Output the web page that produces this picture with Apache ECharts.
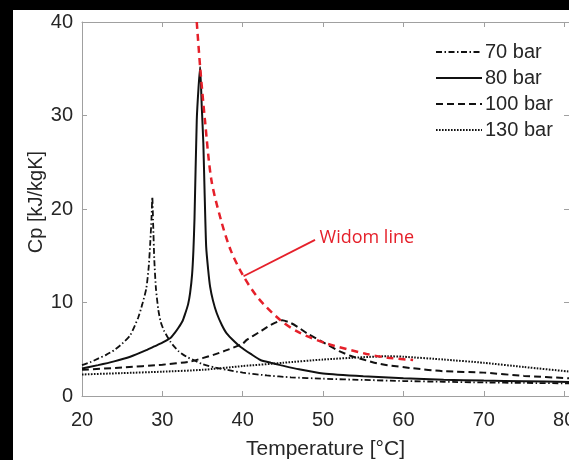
<!DOCTYPE html>
<html><head><meta charset="utf-8">
<script src="https://cdn.jsdelivr.net/npm/echarts@6/dist/echarts.min.js"></script>
<style>
html,body{margin:0;padding:0;background:#000;width:569px;height:460px;overflow:hidden;}
#c{position:absolute;left:13px;top:10px;width:556px;height:450px;background:#fff;}
</style></head>
<body><div id="c"></div>
<script>
// ---- data ----
const xTicks = [20, 30, 40, 50, 60, 70, 80];
const yTicks = [0, 10, 20, 30, 40];
const seriesNames = ['70 bar', '80 bar', '100 bar', '130 bar'];

const t70  = [20,21,22,23,24,25,26,27,27.5,28,28.3,28.5,28.65,28.75,28.85,29,29.2,29.5,29.8,30.2,31,32,33,34,35,36.5,38,40,43,46,50,55,60,65,70,75,80.6];
const cp70 = [3.3,3.6,4.0,4.4,4.9,5.6,6.5,8.4,9.8,11.5,13.8,16.5,19.0,21.3,18.5,14.5,11.5,9.2,7.9,7.0,5.8,4.8,4.2,3.8,3.4,3.05,2.8,2.5,2.2,2.0,1.85,1.72,1.6,1.52,1.45,1.4,1.35];

const t80  = [20,22,24,26,28,29,30,31,31.5,32,32.5,32.8,33.2,33.45,33.7,33.86,34.0,34.28,34.5,34.7,34.9,35.1,35.25,35.45,35.7,35.94,36.3,36.77,37.4,38,39,39.7,41,42.2,43.5,44.7,47,50,55,60,65,70,75,80.6];
const cp80 = [2.95,3.3,3.7,4.2,4.9,5.3,5.7,6.2,6.7,7.3,8.0,8.7,9.8,11.0,13.0,15.5,19.0,29.5,33,35.2,31,27,22,16,13.5,11.7,10.2,8.85,7.6,6.7,5.8,5.27,4.5,3.85,3.55,3.3,2.85,2.4,2.1,1.9,1.75,1.65,1.58,1.5];

const t100  = [20,25,30,33.45,35,36.35,38,40,40.5,42,43.5,44.9,46,47,48,50.3,52,53.4,55,56.7,58,61.2,65,70,75,80.6];
const cp100 = [2.8,3.05,3.35,3.67,4.05,4.4,4.9,5.6,6.0,6.8,7.6,8.1,7.8,7.3,6.7,5.6,4.8,4.3,3.9,3.5,3.3,2.96,2.65,2.5,2.15,1.9];

const t130  = [20,25,30,35,40,45,50,55,58,60,65,70,75,80.6];
const cp130 = [2.3,2.45,2.6,2.8,3.2,3.55,3.9,4.15,4.25,4.2,3.9,3.55,3.1,2.62];

const tWidom  = [34.28,34.7,35.3,36.1,37.3,38.5,40.1,42,44.7,47,50.5,55.4,58,61.2];
const cpWidom = [40,35.2,29.5,23.1,18.8,15.6,12.8,10.4,8.1,6.8,5.6,4.5,4.1,3.85];

const arrowFrom = [40.1, 12.8];
const arrowTo   = [49, 16.7];
const widomLabel = 'Widom line';
const xTitle = 'Temperature [°C]';
const yTitle = 'Cp [kJ/kgK]';

// ---- chart ----
const pairs = (xs, ys) => xs.map((x, i) => [x, ys[i]]);
const FONT = 'Liberation Sans, Arial, sans-serif';
const TXT = '#262626';
const AX = '#a0a0a0';
const RED = '#e5202a';

const chart = echarts.init(document.getElementById('c'), null, {renderer: 'canvas'});

function lineSeries(name, xs, ys, type, width) {
  return {
    name, type: 'line', data: pairs(xs, ys), symbol: 'none', showSymbol: false,
    smooth: 0.2, clip: true, animation: false,
    lineStyle: {color: '#111', width, type},
    itemStyle: {color: '#111'},
    z: 3
  };
}

const axisCommon = {
  axisLine: {show: true, onZero: false, lineStyle: {color: AX, width: 1}},
  axisTick: {show: true, inside: true, length: 5, lineStyle: {color: AX}},
  splitLine: {show: false}
};

chart.setOption({
  backgroundColor: '#fff',
  animation: false,
  grid: {left: 69, right: 0, top: 12, bottom: 64, containLabel: false, outerBoundsMode: 'none'},
  legend: {
    data: seriesNames,
    orient: 'vertical',
    left: 417, top: 27,
    itemWidth: 46, itemHeight: 14, itemGap: 6,
    itemStyle: {opacity: 0},
    textStyle: {fontFamily: FONT, fontSize: 20, color: TXT, lineHeight: 20, padding: [0, 0, 0, -2]},
    selectedMode: false
  },
  xAxis: [
    Object.assign({}, axisCommon, {
      type: 'value', position: 'bottom', min: 20, max: 80.6,
      axisTick: Object.assign({}, axisCommon.axisTick, {customValues: xTicks}),
      axisLabel: {customValues: xTicks, fontFamily: FONT, fontSize: 20, color: TXT, margin: 14},
      name: xTitle, nameLocation: 'middle', nameGap: 43, nameMoveOverlap: false,
      nameTextStyle: {fontFamily: FONT, fontSize: 21, color: TXT}
    }),
    Object.assign({}, axisCommon, {
      type: 'value', position: 'top', min: 20, max: 80.6,
      axisTick: Object.assign({}, axisCommon.axisTick, {customValues: xTicks}),
      axisLabel: {show: false}
    })
  ],
  yAxis: [
    Object.assign({}, axisCommon, {
      type: 'value', position: 'left', min: 0, max: 40, interval: 10,
      axisLabel: {customValues: yTicks, fontFamily: FONT, fontSize: 20, color: TXT, margin: 9},
      axisTick: Object.assign({}, axisCommon.axisTick, {customValues: yTicks}),
      name: yTitle, nameLocation: 'middle', nameGap: 36, nameMoveOverlap: false,
      nameTextStyle: {fontFamily: FONT, fontSize: 20, color: TXT, padding: [0, 0, 0, 14]}
    }),
    Object.assign({}, axisCommon, {
      type: 'value', position: 'right', min: 0, max: 40, interval: 10,
      axisLine: {show: false},
      axisTick: Object.assign({}, axisCommon.axisTick, {customValues: yTicks}),
      axisLabel: {show: false}
    })
  ],
  series: [
    lineSeries(seriesNames[0], t70, cp70, [6, 2.5, 1.5, 2.5], 1.8),
    lineSeries(seriesNames[1], t80, cp80, 'solid', 2),
    lineSeries(seriesNames[2], t100, cp100, [7, 4], 2),
    lineSeries(seriesNames[3], t130, cp130, [1.6, 1.4], 2),
    {
      name: 'Widom', type: 'line', data: pairs(tWidom, cpWidom), symbol: 'none', showSymbol: false,
      smooth: 0.3,
      clip: true, animation: false, z: 4,
      lineStyle: {color: RED, width: 2.5, type: [7, 5]},
      itemStyle: {color: RED},
      markLine: {
        silent: true, animation: false,
        symbol: ['none', 'arrow'], symbolSize: [0, 9],
        lineStyle: {color: RED, width: 1.8, type: 'solid'},
        label: {show: true, position: 'end', formatter: widomLabel, distance: 5,
                padding: [0, 0, 6, 0],
                fontFamily: 'Open Sans, Lato, sans-serif', fontSize: 18, color: RED},
        data: [[{coord: arrowFrom}, {coord: arrowTo}]]
      }
    }
  ]
});
</script>
</body></html>
